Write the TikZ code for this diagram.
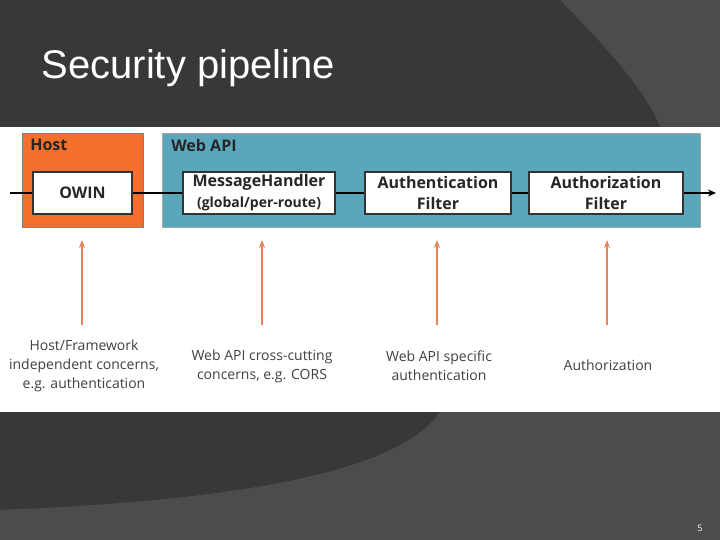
\documentclass[tikz,border=0pt]{standalone}
\usepackage{fontspec}
\setmainfont{Open Sans}
\newfontfamily\titlefont{Liberation Sans}
\usetikzlibrary{arrows.meta}
\definecolor{bgdark}{HTML}{383838}
\definecolor{bglight}{HTML}{4C4C4C}
\definecolor{hostor}{HTML}{F26F2C}
\definecolor{apiblue}{HTML}{5AA7BC}
\definecolor{arrowor}{HTML}{E8825A}
\tikzset{
 box/.style={draw=black!80,line width=1.5pt,fill=white,minimum height=42pt,font=\bfseries\fontsize{16}{21}\selectfont,align=center,inner sep=0pt,text=black!85},
 lab/.style={font=\fontsize{14}{19}\selectfont,text=black!75,align=center},
 up/.style={draw=arrowor,line width=1.8pt,-{Stealth[length=8pt,width=6pt]}},
}
\begin{document}
\begin{tikzpicture}[x=1pt,y=-1pt]
\useasboundingbox (0,0) rectangle (720,540);
\fill[bgdark] (0,0) rectangle (720,540);
\fill[bglight] (560,0) .. controls (620,60) and (650,100) .. (660,127) -- (720,127) -- (720,0) -- cycle;
\fill[bglight] (0,540) -- (0,510) .. controls (250,500) and (400,470) .. (440,412) -- (720,412) -- (720,540) -- cycle;
\node[anchor=west,text=white,font=\titlefont\fontsize{40}{42}\selectfont] (title) at (38,68) {Security pipeline};
\fill[white] (0,127) rectangle (720,412);
\node[draw=black!50,fill=hostor,minimum width=121pt,minimum height=94pt,inner sep=0pt] (host) at (82.5,180) {};
\node[anchor=north west,font=\bfseries\fontsize{16}{17}\selectfont,text=black!85] (hostl) at (host.north west) [xshift=5pt,yshift=-3pt] {Host};
\node[draw=black!35,fill=apiblue,minimum width=538pt,minimum height=94pt,inner sep=0pt] (api) at (431,180) {};
\node[anchor=north west,font=\bfseries\fontsize{16}{17}\selectfont,text=black!85] (apil) at (api.north west) [xshift=6pt,yshift=-3pt] {Web API};
\coordinate (start) at (10,193);
\coordinate (end) at (716,193);
\node[box,minimum width=99pt] (owin) at (82.5,193) {OWIN};
\node[box,minimum width=152pt] (mh) at (259,193) {MessageHandler\\{\fontsize{14}{15}\selectfont(global/per-route)}};
\node[box,minimum width=146pt] (auth) at (438,193) {Authentication\\Filter};
\node[box,minimum width=154pt] (authz) at (606,193) {Authorization\\Filter};
\draw[line width=1.6pt] (start) -- (owin);
\draw[line width=1.6pt] (owin) -- (mh);
\draw[line width=1.6pt] (mh) -- (auth);
\draw[line width=1.6pt] (auth) -- (authz);
\draw[line width=1.6pt,-{Stealth[length=8pt,width=7pt]}] (authz) -- (end);
\node[lab] (l1) at (84,366) {Host/Framework\\independent concerns,\\e.g. authentication};
\node[lab] (l2) at (262,366) {Web API cross-cutting\\concerns, e.g. CORS};
\node[lab] (l3) at (439,366) {Web API specific\\authentication};
\node[lab] (l4) at (608,365) {Authorization};
\coordinate (a1) at (82,240); \coordinate (b1) at (82,325);
\coordinate (a2) at (262,240); \coordinate (b2) at (262,325);
\coordinate (a3) at (437,240); \coordinate (b3) at (437,325);
\coordinate (a4) at (607,240); \coordinate (b4) at (607,325);
\draw[up] (b1) -- (a1);
\draw[up] (b2) -- (a2);
\draw[up] (b3) -- (a3);
\draw[up] (b4) -- (a4);
\node[text=white!70,font=\fontsize{9}{10}\selectfont] (pg) at (700,528) {5};
\end{tikzpicture}
\end{document}
